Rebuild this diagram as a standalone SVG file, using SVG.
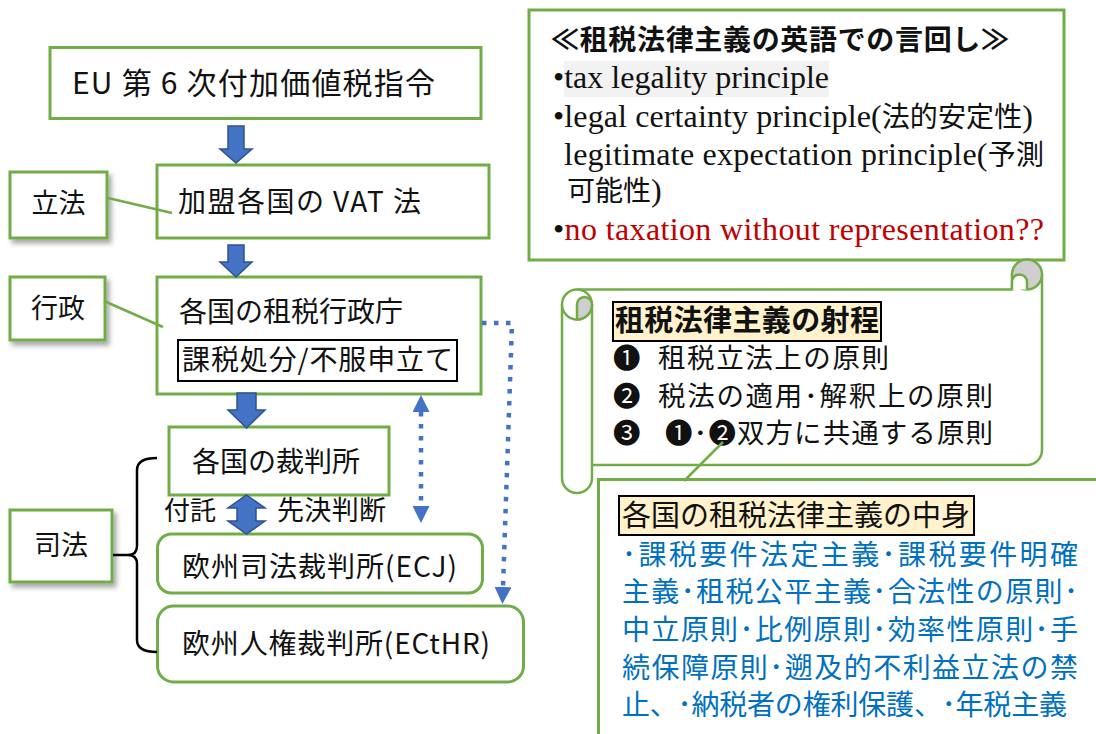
<svg xmlns="http://www.w3.org/2000/svg" width="1096" height="734" viewBox="0 0 1096 734">
<style>
.box{fill:#fff;stroke:#70AD47;stroke-width:3}
.lbl{fill:#fff;stroke:#70AD47;stroke-width:3;filter:url(#sh)}
.jp{font-family:"Noto Sans CJK JP","Noto Sans",sans-serif;fill:#111}
.b{font-weight:bold}
.blk{fill:#4472C4;stroke:#2F528F;stroke-width:1.5}
.dot{fill:none;stroke:#4472C4;stroke-width:4.5;stroke-dasharray:4.5 7.5}
.gl{stroke:#70AD47;stroke-width:2.5;fill:none}
.br{stroke:#000;stroke-width:2.5;fill:none}
.en{font-family:"Liberation Serif","Noto Sans CJK JP",serif;font-size:32px;fill:#111}
.cj{font-family:"Noto Sans CJK JP",sans-serif;font-size:28px}
.hl{fill:#FFF2CC;stroke:#000;stroke-width:2}
.gs{fill:#D0CECE;stroke:#70AD47;stroke-width:2.5}
.ws{fill:#fff;stroke:#70AD47;stroke-width:2.5}
</style>
<defs>
<filter id="sh" x="-20%" y="-20%" width="150%" height="150%"><feDropShadow dx="3" dy="4" stdDeviation="2.5" flood-color="#000" flood-opacity="0.35"/></filter>
<marker id="tri" viewBox="0 0 10 10" refX="0" refY="5" markerUnits="userSpaceOnUse" markerWidth="17" markerHeight="17" orient="auto-start-reverse"><path d="M0,0 L10,5 L0,10 z" fill="#4472C4"/></marker>
</defs>
<rect width="1096" height="734" fill="#fff"/>

<g id="n-eu">
<rect class="box" x="50" y="47.5" width="431" height="71"/>
<text class="jp" x="72" y="94" font-size="30" textLength="363">EU 第 6 次付加価値税指令</text>
</g>
<g id="n-vat">
<rect class="box" x="157" y="165" width="332" height="73"/>
<text class="jp" x="178" y="212" font-size="28" textLength="243">加盟各国の VAT 法</text>
</g>
<g id="n-admin">
<rect class="box" x="157" y="277" width="324" height="117"/>
<text class="jp" x="179" y="322" font-size="28">各国の租税行政庁</text>
<rect x="178" y="340" width="279" height="41" fill="none" stroke="#000" stroke-width="2"/>
<text class="jp" x="182" y="370" font-size="28" textLength="271">課税処分/不服申立て</text>
</g>
<g id="n-court">
<rect class="box" x="169" y="427" width="220" height="68"/>
<text class="jp" x="192" y="472" font-size="28">各国の裁判所</text>
</g>
<g id="n-ecj">
<rect class="box" x="157.5" y="534" width="325" height="59" rx="14"/>
<text class="jp" x="182" y="577" font-size="28" textLength="275">欧州司法裁判所(ECJ)</text>
</g>
<g id="n-ecthr">
<rect class="box" x="157.5" y="606" width="366" height="76" rx="16"/>
<text class="jp" x="182" y="654" font-size="28" textLength="308">欧州人権裁判所(ECtHR)</text>
</g>
<g id="l-legis">
<rect class="lbl" x="10" y="172" width="97" height="66"/>
<text class="jp" x="58.5" y="213" font-size="27" text-anchor="middle">立法</text>
</g>
<g id="l-admin">
<rect class="lbl" x="10" y="277" width="95" height="63"/>
<text class="jp" x="58" y="318" font-size="27" text-anchor="middle">行政</text>
</g>
<g id="l-judic">
<rect class="lbl" x="10" y="510" width="102" height="72"/>
<text class="jp" x="61" y="555" font-size="27" text-anchor="middle">司法</text>
</g>

<g id="n-english">
<rect class="box" x="529" y="10" width="535" height="250"/>
<text class="jp b" x="551" y="50" font-size="28" textLength="458">≪租税法律主義の英語での言回し≫</text>
<rect x="564" y="61" width="265" height="36" fill="#F2F2F2"/>
<text class="en" x="553" y="88">•tax legality principle</text>
<text class="en" x="553" y="127" textLength="480">•legal certainty principle(<tspan class="cj">法的安定性</tspan>)</text>
<text class="en" x="564" y="165" textLength="480">legitimate expectation principle(<tspan class="cj">予測</tspan></text>
<text class="en" x="567" y="201"><tspan class="cj">可能性</tspan>)</text>
<text class="en" x="553" y="240" textLength="491"><tspan>•</tspan><tspan fill="#C00000">no taxation without representation??</tspan></text>
</g>

<g id="n-scope">
<path d="M577 289.5 H1042 V450 A15 15 0 0 1 1027 465 H577 Z" fill="#fff"/>
<path class="gl" d="M577 289.5 H1012 V274.5"/>
<path class="gl" d="M1042 274.5 V450 A15 15 0 0 1 1027 465 H592"/>
<circle class="gs" cx="1027" cy="274.5" r="15"/>
<path class="ws" d="M1012 289.5 V282 A7.5 7.5 0 0 1 1027 282 V289.5"/>
<path class="ws" d="M562 304.5 V478 A15 15 0 0 0 592 478 V304.5"/>
<circle class="ws" cx="577" cy="304.5" r="15"/>
<path class="gs" d="M577 304.5 A7.5 7.5 0 0 1 592 304.5 A15 15 0 0 1 577 319.5 Z"/>
<rect class="hl" x="613" y="302" width="268" height="39"/>
<text class="jp b" x="615" y="331" font-size="29" textLength="264">租税法律主義の射程</text>
<text class="jp" x="613" y="368" font-size="27.5">❶</text>
<text class="jp" x="658" y="368" font-size="27.5" textLength="231">租税立法上の原則</text>
<text class="jp" x="613" y="406" font-size="27.5">❷</text>
<text class="jp" x="658" y="406" font-size="27.5" textLength="335">税法の適用･解釈上の原則</text>
<text class="jp" x="613" y="443" font-size="27.5">❸</text>
<text class="jp" x="665" y="443" font-size="27.5" textLength="328">❶･❷双方に共通する原則</text>
</g>

<g id="n-content">
<rect class="box" x="598.5" y="479.5" width="520" height="270"/>
<rect class="hl" x="619" y="496" width="355" height="39"/>
<text class="jp" x="622" y="526" font-size="29" textLength="348">各国の租税法律主義の中身</text>
<g class="jp" font-size="28">
<text x="622" y="565" fill="#0070C0" textLength="456">･課税要件法定主義･課税要件明確</text>
<text x="622" y="602" fill="#0070C0" textLength="456">主義･租税公平主義･合法性の原則･</text>
<text x="622" y="640" fill="#0070C0" textLength="456">中立原則･比例原則･効率性原則･手</text>
<text x="622" y="678" fill="#0070C0" textLength="456">続保障原則･遡及的不利益立法の禁</text>
<text x="622" y="715" fill="#0070C0" textLength="445">止、･納税者の権利保護、･年税主義</text>
</g>
</g>

<g id="connectors">
<polygon class="blk" points="228,126 244,126 244,149 252,149 236,163 220,149 228,149"/>
<polygon class="blk" points="228,245 244,245 244,262 252,262 236,277 220,262 228,262"/>
<polygon class="blk" points="237,393 256,393 256,410 265,410 246.5,428 228,410 237,410"/>
<polygon class="blk" points="246.5,495 265,508 256,508 256,521 265,521 246.5,534 228,521 237,521 237,508 228,508"/>
<line class="gl" x1="108" y1="198" x2="172" y2="213"/>
<line class="gl" x1="104" y1="301" x2="163" y2="327"/>
<path class="br" d="M157 458 Q137 458 137 470 V546 Q137 555 128 555 H113 M128 555 Q137 555 137 564 V640 Q137 652 157 652"/>
<text class="jp" x="164" y="520" font-size="26">付託</text>
<text class="jp" x="277" y="520" font-size="27" textLength="109">先決判断</text>
<line class="dot" x1="421" y1="412" x2="421" y2="506" marker-start="url(#tri)" marker-end="url(#tri)"/>
<path class="dot" d="M482 323 H512 L503 587" marker-end="url(#tri)"/>
<line class="gl" x1="723" y1="442" x2="684" y2="481"/>
</g>
</svg>
